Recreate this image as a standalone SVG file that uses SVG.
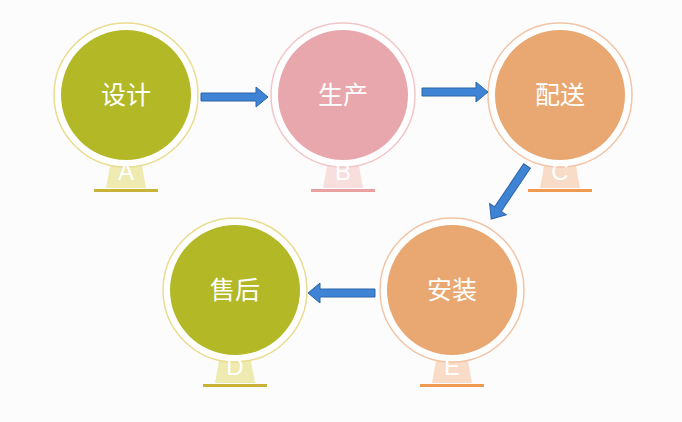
<svg xmlns="http://www.w3.org/2000/svg" width="682" height="422" viewBox="0 0 682 422">
<style>
.ring{fill:#fff;stroke-width:1.5}
.lbl{font-family:"Noto Sans CJK SC","Liberation Sans",sans-serif;font-size:25px;fill:#fff;text-anchor:middle}
.let{font-family:"Liberation Sans",sans-serif;font-size:24px;fill:#fff;text-anchor:middle}
.arr{fill:#3f84d4;stroke:#2c64a8;stroke-width:1}
</style>
<rect width="682" height="422" fill="#fdfcfd"/>
<defs>
<g id="stand"><path d="M-14,60 L14,60 L20,93 L-20,93 Z"/></g>
</defs>
<g id="n1">
<use href="#stand" x="126" y="95" fill="#eeeab0"/>
<rect x="94" y="189" width="64" height="3" fill="#c9b238"/>
<circle class="ring" cx="126" cy="95" r="72" stroke="#eadc90"/>
<circle cx="126" cy="95" r="65" fill="#b3b827"/>
<text class="let" x="126" y="180">A</text>
<text class="lbl" x="126" y="104">设计</text>
</g>
<g id="n2">
<use href="#stand" x="343" y="95" fill="#f9dede"/>
<rect x="311" y="189" width="64" height="3" fill="#e8a0a0"/>
<circle class="ring" cx="343" cy="95" r="72" stroke="#f2c6c8"/>
<circle cx="343" cy="95" r="65" fill="#e8a7ad"/>
<text class="let" x="343" y="180">B</text>
<text class="lbl" x="343" y="104">生产</text>
</g>
<g id="n3">
<use href="#stand" x="560" y="95" fill="#f9dcc8"/>
<rect x="528" y="189" width="64" height="3" fill="#ef9a50"/>
<circle class="ring" cx="560" cy="95" r="72" stroke="#f2c4a6"/>
<circle cx="560" cy="95" r="65" fill="#e9a872"/>
<text class="let" x="560" y="180">C</text>
<text class="lbl" x="560" y="104">配送</text>
</g>
<g id="n4">
<use href="#stand" x="235" y="290" fill="#eeeab0"/>
<rect x="203" y="384" width="64" height="3" fill="#c9b238"/>
<circle class="ring" cx="235" cy="290" r="72" stroke="#eadc90"/>
<circle cx="235" cy="290" r="65" fill="#b3b827"/>
<text class="let" x="235" y="375">D</text>
<text class="lbl" x="235" y="299">售后</text>
</g>
<g id="n5">
<use href="#stand" x="452" y="290" fill="#f9dcc8"/>
<rect x="420" y="384" width="64" height="3" fill="#ef9a50"/>
<circle class="ring" cx="452" cy="290" r="72" stroke="#f2c4a6"/>
<circle cx="452" cy="290" r="65" fill="#e9a872"/>
<text class="let" x="452" y="375">E</text>
<text class="lbl" x="452" y="299">安装</text>
</g>
<g id="connectors">
<path class="arr" d="M201,93 L256,93 L256,87 L268,97 L256,107 L256,101 L201,101 Z"/>
<path class="arr" d="M422,88 L476,88 L476,82 L488,92 L476,102 L476,96 L422,96 Z"/>
<path class="arr" transform="translate(527,166) rotate(124)" d="M0,-4 L52,-4 L52,-10 L64,0 L52,10 L52,4 L0,4 Z"/>
<path class="arr" d="M375,289 L320,289 L320,283 L308,293 L320,303 L320,297 L375,297 Z"/>
</g>
</svg>
